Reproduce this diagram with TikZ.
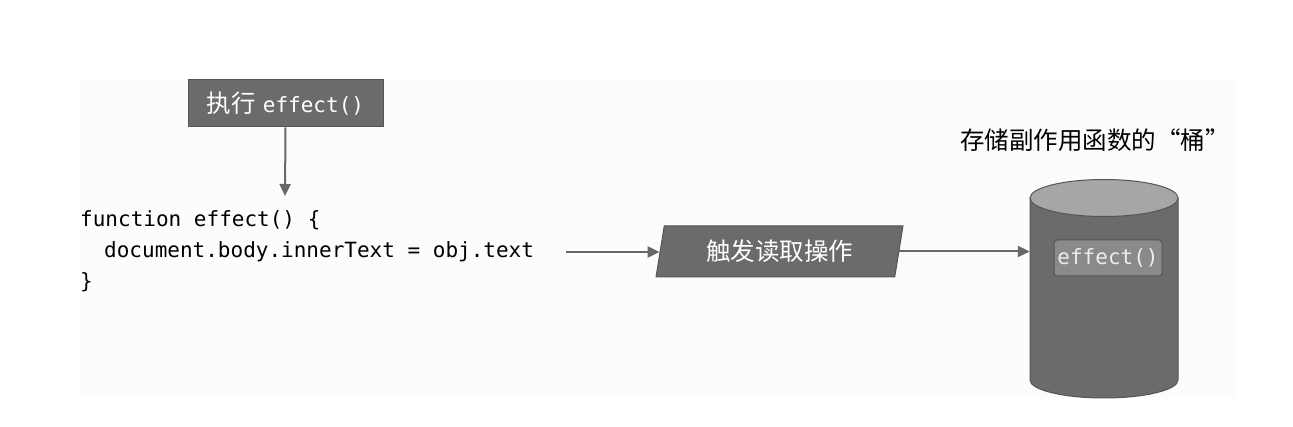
\documentclass[tikz,border=0pt]{standalone}
\usepackage{fontspec}
\usepackage{tikz}
\usetikzlibrary{arrows.meta,shapes.geometric}
\setmonofont{DejaVu Sans Mono}
\newfontfamily\cjk{Noto Sans CJK SC}
\definecolor{boxgray}{HTML}{6B6B6B}
\definecolor{linegray}{HTML}{555555}
\definecolor{arrgray}{HTML}{686868}
\definecolor{topgray}{HTML}{A6A6A6}
\definecolor{cellgray}{HTML}{8A8A8A}
\definecolor{panel}{HTML}{FCFCFC}
\tikzset{
  darkbox/.style={fill=boxgray,draw=linegray,line width=1pt,text=white},
  codeline/.style={inner sep=0pt,anchor=west,font=\ttfamily\fontsize{21}{25}\selectfont},
  arr/.style={draw=arrgray,line width=2pt,-{Triangle[length=12pt,width=11pt]}}
}
\begin{document}
\begin{tikzpicture}[x=1pt,y=1pt]
\useasboundingbox (0,0) rectangle (1293,426);
%背景
\fill[panel] (79,28) rectangle (1237,347);
%执行
\node[darkbox,minimum width=195,minimum height=47,inner sep=0pt] (exec) at (285.5,322.5)
  {{\cjk\fontsize{24.5}{29}\selectfont 执行}\hspace{7pt}{\ttfamily\fontsize{21}{25}\selectfont effect()}};
\coordinate (callin) at (285,230);
%代码
\node[codeline] (code1) at (80,206) {function effect() \{};
\node[codeline] (code2) at (104,174) {document.body.innerText = obj.text};
\node[codeline] (code3) at (80,144) {\}};
\coordinate (codeout) at (566,174);
%触发读取操作
\node[darkbox,trapezium,trapezium left angle=77,trapezium right angle=103,
  trapezium stretches=true,minimum width=247,minimum height=51,inner sep=0pt,
  font=\cjk\fontsize{24.5}{29}\selectfont] (read) at (779.5,174.5) {触发读取操作};
%桶
\fill[boxgray] (1030,228) -- (1030,46) arc(180:360:74 and 18) -- (1178,228) -- cycle;
\draw[linegray,line width=1pt] (1030,228) -- (1030,46) arc(180:360:74 and 18) -- (1178,228);
\draw[linegray,line width=1pt,fill=topgray] (1104,228) ellipse (74 and 18.5);
\node[minimum width=148,minimum height=182,inner sep=0pt] (bucket) at (1104,137) {};
\node[fill=cellgray,draw=linegray,line width=1pt,rounded corners=3pt,minimum width=108,
  minimum height=36,inner sep=0pt,text=white!93!black,font=\ttfamily\fontsize{21}{25}\selectfont]
  (fn) at (1108,168) {effect()};
\node[font=\cjk\fontsize{24.5}{29}\selectfont] (title) at (1095,286) {存储副作用函数的“桶”};
%箭头
\draw[arr] (exec.south) -- (callin);
\draw[arr] (codeout) -- (codeout -| read.west);
\draw[arr] (read.east) -- (read.east -| bucket.west);
\end{tikzpicture}
\end{document}
